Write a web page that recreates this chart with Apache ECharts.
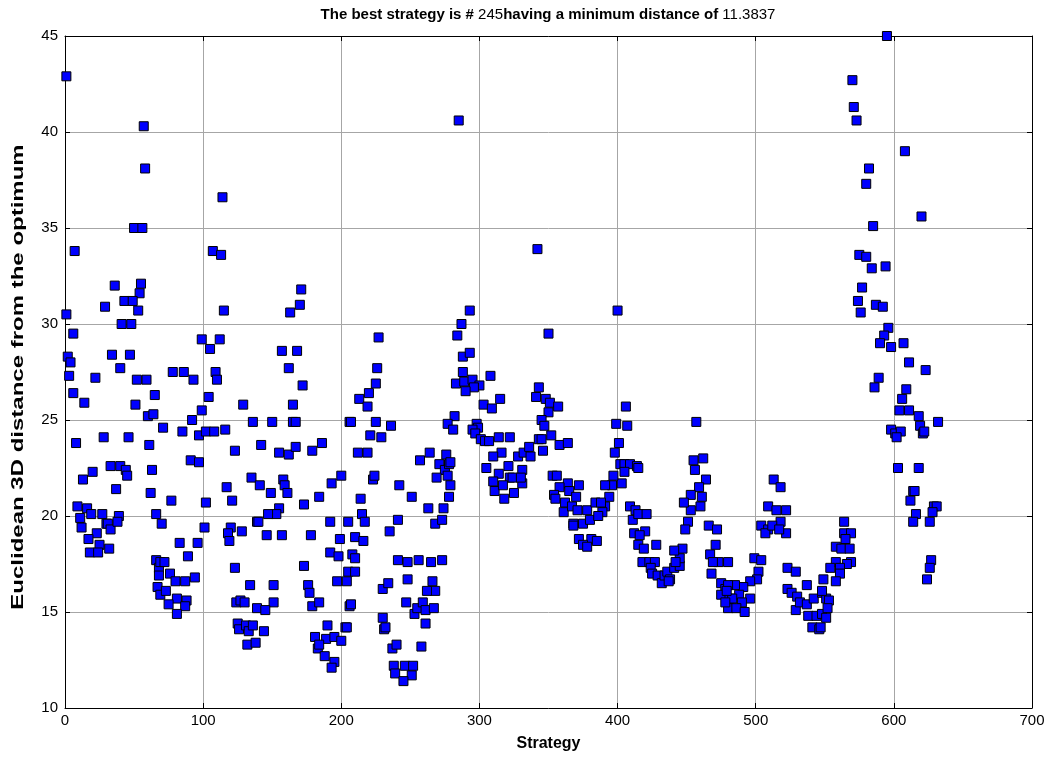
<!DOCTYPE html>
<html>
<head>
<meta charset="utf-8">
<script src="https://cdn.jsdelivr.net/npm/echarts@6/dist/echarts.min.js"></script>
<style>html,body{margin:0;padding:0;background:#fff;}#chart{width:1051px;height:761px;}</style>
</head>
<body>
<div id="chart"></div>
<script>
// [strategy, euclidean 3D distance] pairs
const block1 = [[1,42.9],[57,40.3],[58,38.1],[50,35.0],[56,35.0],[7,33.8],[36,32.0],[55,32.1],[54,31.6],[43,31.2],[49,31.2],[29,30.9],[53,30.7],[1,30.5],[41,30.0],[48,30.0],[6,29.5],[2,28.3],[4,28.0],[3,27.3],[34,28.4],[47,28.4],[40,27.7],[22,27.2],[52,27.1],[59,27.1],[6,26.4],[65,26.3],[14,25.9],[51,25.8],[60,25.2],[64,25.3],[8,23.8],[28,24.1],[46,24.1],[61,23.7],[13,21.9],[20,22.3],[33,22.6],[40,22.6],[44,22.4],[45,22.1],[37,21.4],[63,22.4],[62,21.2],[9,20.5],[16,20.4],[19,20.1],[27,20.1],[39,20.0],[11,19.9],[12,19.4],[30,19.6],[31,19.6],[33,19.3],[38,19.7],[23,19.1],[17,18.8],[25,18.5],[32,18.3],[18,18.1],[24,18.1],[66,20.1],[66,17.7],[68,17.3],[67,16.3],[69,15.9]];
const block2 = [[114,36.6],[107,33.8],[113,33.6],[115,30.7],[99,29.2],[105,28.7],[112,29.2],[78,27.5],[86,27.5],[93,27.1],[109,27.5],[110,27.1],[104,26.2],[129,25.8],[99,25.5],[92,25.0],[136,24.9],[71,24.6],[85,24.4],[97,24.2],[102,24.4],[108,24.4],[116,24.5],[123,23.4],[91,22.9],[97,22.8],[135,22.0],[117,21.5],[77,20.8],[102,20.7],[121,20.8],[70,19.6],[101,19.4],[120,19.4],[128,19.2],[139,19.7],[83,18.6],[96,18.6],[89,17.9],[118,19.1],[119,18.7],[123,17.3],[69,17.6],[72,17.6],[76,17.0],[68,16.9],[80,16.6],[87,16.6],[94,16.8],[73,16.1],[81,15.7],[88,15.6],[75,15.4],[87,15.3],[81,14.9],[134,16.4],[124,15.5],[127,15.6],[130,15.5],[139,15.2],[125,14.4],[126,14.1],[131,14.3],[133,14.0],[136,14.3],[132,13.3],[138,13.4]];
const block3 = [[171,31.8],[170,31.0],[163,30.6],[157,28.6],[168,28.6],[162,27.7],[172,26.8],[165,25.8],[150,24.9],[165,24.9],[167,24.9],[206,24.9],[142,23.7],[155,23.3],[162,23.2],[167,23.6],[179,23.4],[186,23.8],[141,21.6],[149,21.2],[158,21.9],[159,21.6],[161,21.2],[173,20.6],[184,21.0],[193,21.7],[200,22.1],[155,20.4],[153,20.1],[147,20.1],[140,19.7],[146,19.0],[157,19.0],[178,19.0],[192,19.7],[205,19.7],[199,18.8],[192,18.1],[198,17.9],[173,17.4],[151,16.4],[176,16.4],[177,16.0],[197,16.6],[204,16.6],[205,17.1],[151,15.5],[145,15.1],[179,15.3],[184,15.5],[206,15.3],[144,14.0],[181,13.7],[183,13.1],[189,13.6],[190,14.3],[195,13.7],[200,13.5],[203,14.2],[188,12.7],[195,12.4],[184,13.3],[193,12.1]];
const block4 = [[227,29.3],[226,27.7],[225,26.9],[213,26.1],[220,26.4],[219,25.7],[207,24.9],[225,24.9],[236,24.7],[221,24.2],[229,24.1],[212,23.3],[219,23.3],[257,22.9],[264,23.3],[271,22.7],[275,22.4],[276,23.2],[223,21.9],[224,22.1],[242,21.6],[251,21.0],[269,22.0],[214,20.9],[263,20.4],[274,20.4],[215,20.1],[217,19.7],[241,19.8],[268,19.6],[273,19.8],[235,19.2],[210,18.9],[216,18.7],[208,18.0],[210,17.8],[241,17.7],[248,17.6],[256,17.7],[265,17.6],[273,17.7],[210,17.1],[230,16.2],[234,16.5],[248,16.7],[266,16.6],[268,16.1],[262,16.1],[207,15.4],[247,15.5],[253,14.9],[255,15.2],[259,15.5],[261,15.1],[267,15.2],[204,14.2],[230,14.7],[231,14.1],[232,14.2],[261,14.4],[237,13.1],[240,13.3],[258,13.2],[238,12.2],[246,12.2],[252,12.2],[239,11.8],[251,11.7],[245,11.4]];
const block5 = [[285,40.6],[342,33.9],[293,30.7],[287,30.0],[284,29.4],[288,28.3],[293,28.5],[288,27.5],[308,27.3],[283,26.9],[289,27.0],[295,27.1],[300,26.8],[296,26.7],[290,26.5],[303,25.8],[309,25.6],[315,26.1],[282,25.2],[277,24.8],[281,24.5],[298,24.8],[299,24.6],[295,24.5],[297,24.3],[301,24.0],[304,23.9],[307,23.9],[314,24.1],[322,24.1],[316,23.3],[310,23.1],[305,22.5],[328,23.1],[332,23.3],[337,23.1],[336,23.6],[343,24.0],[314,22.2],[321,22.6],[322,22.0],[310,21.8],[311,21.3],[317,21.6],[318,20.9],[325,21.2],[324,22.0],[331,21.7],[331,22.4],[330,22.0],[278,22.7],[279,22.8],[277,22.1],[279,21.6],[278,21.0]];
const block6 = [[400,30.7],[350,29.5],[343,26.7],[341,26.2],[348,26.1],[351,25.9],[357,25.7],[350,25.4],[406,25.7],[345,25.0],[347,24.7],[399,24.8],[407,24.7],[345,24.0],[352,24.2],[346,23.4],[358,23.7],[364,23.8],[401,23.8],[398,23.3],[353,22.1],[356,22.1],[364,21.7],[372,21.6],[365,21.3],[370,21.0],[358,21.5],[354,21.1],[355,20.9],[402,22.7],[405,22.7],[409,22.7],[414,22.6],[405,22.3],[403,21.7],[397,22.1],[396,21.6],[394,21.0],[391,21.6],[391,20.5],[362,20.7],[361,20.2],[367,20.5],[371,20.3],[368,19.6],[375,19.6],[378,20.3],[380,19.8],[384,20.7],[388,20.7],[389,20.2],[386,20.0],[381,18.8],[372,18.8],[368,19.5],[375,18.5],[378,18.4],[385,18.7],[409,20.5],[411,19.8],[412,19.1]];
const block7 = [[457,24.9],[455,22.9],[462,23.0],[456,22.4],[415,22.5],[464,21.9],[459,21.5],[453,21.1],[461,21.0],[460,20.5],[453,20.3],[448,20.7],[451,19.7],[449,19.3],[413,20.3],[415,20.1],[421,20.1],[420,19.2],[428,18.5],[416,19.0],[415,18.5],[419,18.3],[466,19.5],[472,19.3],[471,18.5],[467,18.0],[473,17.6],[480,17.6],[469,17.6],[468,17.0],[418,17.6],[423,17.6],[427,17.6],[424,17.3],[425,17.0],[429,16.9],[432,16.5],[434,16.9],[436,17.1],[438,16.7],[441,17.3],[445,17.4],[445,17.8],[447,18.3],[441,18.2],[442,17.6],[437,16.6],[475,16.5],[478,16.2],[475,15.9],[481,15.7],[480,15.2]];
const block8 = [[513,21.9],[518,21.5],[509,20.5],[515,20.3],[522,20.3],[518,19.7],[522,19.1],[504,19.5],[509,19.3],[507,19.1],[512,19.5],[517,19.3],[499,17.8],[504,17.7],[502,17.1],[501,16.7],[496,16.6],[491,16.3],[485,16.4],[480,16.4],[488,15.9],[496,15.7],[483,15.7],[490,15.5],[486,15.2],[479,16.1],[478,15.5],[492,15.0],[523,17.3],[529,17.1],[523,16.2],[526,16.0],[530,15.8],[537,16.4],[529,15.1],[532,15.5],[537,15.4],[542,15.7],[548,16.0],[538,14.8],[544,14.8],[548,14.9],[549,16.7],[551,15.7],[541,14.2],[546,14.1]];
const block9 = [[595,45.0],[570,42.7],[571,41.3],[573,40.6],[608,39.0],[582,38.1],[580,37.3],[620,35.6],[585,35.1],[575,33.6],[580,33.5],[584,32.9],[594,33.0],[577,31.9],[574,31.2],[576,30.6],[587,31.0],[592,30.9],[596,29.8],[593,29.4],[590,29.0],[598,28.8],[607,29.0],[611,28.0],[589,27.2],[586,26.7],[609,26.6],[606,26.1],[604,25.5],[611,25.5],[618,25.2],[619,24.7],[598,24.5],[601,24.3],[605,24.4],[602,24.1],[603,22.5],[618,22.5],[614,21.3],[612,20.8],[616,20.1],[614,19.7],[564,19.7],[564,19.1],[569,19.1],[565,18.8],[558,18.4],[562,18.3],[568,18.3],[569,17.6],[566,17.5],[558,17.6],[554,17.3],[561,17.3],[561,17.0],[558,16.6],[548,16.1],[553,15.6],[552,15.2],[551,14.7],[547,14.2]];
const block10 = [[623,27.6],[621,24.3],[622,24.4],[632,24.9],[615,21.3],[629,20.5],[631,20.5],[628,20.2],[626,19.7],[627,17.7],[626,17.3],[624,16.7]];

const xTicks = {min: 0, max: 700, step: 100};
const yTicks = {min: 10, max: 45, step: 5};
const bestStrategy = '245';
const bestDistance = '11.3837';
const xLabel = 'Strategy';
const yLabel = 'Euclidean 3D distance from the optimum';

const points = [].concat(block1, block2, block3, block4, block5, block6, block7, block8, block9, block10);

const FONT = 'Liberation Sans, Arial, sans-serif';
const chart = echarts.init(document.getElementById('chart'), null, {renderer: 'canvas'});

const axisCommon = {
  type: 'value',
  axisLine: {show: true, onZero: false, lineStyle: {color: '#000', width: 1}},
  axisTick: {show: true, inside: true, length: 5, lineStyle: {color: '#000'}},
  splitLine: {show: false},
  axisLabel: {show: false}
};

chart.setOption({
  animation: false,
  backgroundColor: '#ffffff',
  grid: {left: 65, right: 19, top: 36, bottom: 53, containLabel: false},
  graphic: [{
    type: 'text',
    x: 548, y: 7,
    style: {
      text: '{b|The best strategy is # }{n|' + bestStrategy + '}{b|having a minimum distance of }{n|' + bestDistance + '}',
      align: 'center', verticalAlign: 'top',
      rich: {
        b: {fontFamily: FONT, fontWeight: 'bold', fontSize: 15, fill: '#000'},
        n: {fontFamily: FONT, fontWeight: 'normal', fontSize: 15, fill: '#000'}
      }
    }
  }, {
    type: 'text',
    x: 18, y: 377,
    rotation: Math.PI / 2,
    scaleX: 1.5, scaleY: 1.05,
    style: {
      text: yLabel,
      align: 'center', verticalAlign: 'middle',
      fontFamily: FONT, fontWeight: 'bold', fontSize: 16, fill: '#000'
    }
  }],
  xAxis: [
    Object.assign({}, axisCommon, {
      position: 'bottom', min: xTicks.min, max: xTicks.max, interval: xTicks.step,
      splitLine: {show: true, lineStyle: {color: '#a6a6a6', width: 1}},
      axisLabel: {show: true, color: '#000', fontFamily: FONT, fontSize: 15, margin: 5},
      name: xLabel, nameLocation: 'middle', nameGap: 28,
      nameTextStyle: {color: '#000', fontFamily: FONT, fontWeight: 'bold', fontSize: 16}
    }),
    Object.assign({}, axisCommon, {position: 'top', min: xTicks.min, max: xTicks.max, interval: xTicks.step})
  ],
  yAxis: [
    Object.assign({}, axisCommon, {
      position: 'left', min: yTicks.min, max: yTicks.max, interval: yTicks.step,
      splitLine: {show: true, lineStyle: {color: '#a6a6a6', width: 1}},
      axisLabel: {show: true, color: '#000', fontFamily: FONT, fontSize: 15, margin: 7}
    }),
    Object.assign({}, axisCommon, {position: 'right', min: yTicks.min, max: yTicks.max, interval: yTicks.step})
  ],
  series: [{
    type: 'scatter',
    xAxisIndex: 0, yAxisIndex: 0,
    symbol: 'rect',
    symbolSize: 9,
    itemStyle: {color: '#0000ff', borderColor: '#000000', borderWidth: 1, opacity: 1},
    data: points
  }]
});
</script>
</body>
</html>
